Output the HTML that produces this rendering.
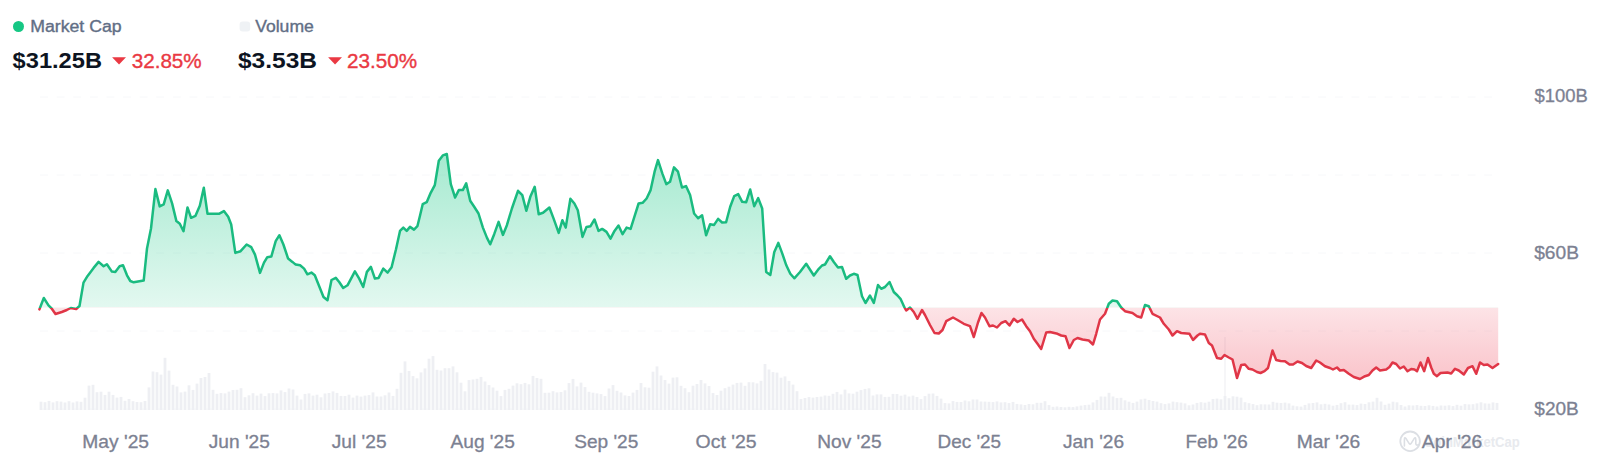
<!DOCTYPE html>
<html lang="en"><head><meta charset="utf-8"><title>Market Cap chart</title>
<style>
html,body{margin:0;padding:0;background:#fff;}
body{width:1600px;height:464px;overflow:hidden;font-family:"Liberation Sans",sans-serif;}
svg{display:block;font-family:"Liberation Sans",sans-serif;}
</style></head><body>
<svg width="1600" height="464" viewBox="0 0 1600 464">
<defs>
<linearGradient id="gg" gradientUnits="userSpaceOnUse" x1="0" y1="150" x2="0" y2="307.5">
<stop offset="0" stop-color="#16c784" stop-opacity="0.39"/><stop offset="1" stop-color="#16c784" stop-opacity="0.12"/></linearGradient>
<linearGradient id="rg" gradientUnits="userSpaceOnUse" x1="0" y1="307.5" x2="0" y2="385">
<stop offset="0" stop-color="#ee3a50" stop-opacity="0.14"/><stop offset="1" stop-color="#ee3a50" stop-opacity="0.31"/></linearGradient>
<clipPath id="up"><rect x="0" y="0" width="1600" height="307.5"/></clipPath>
<clipPath id="lup"><rect x="0" y="0" width="1600" height="308.1"/></clipPath>
<clipPath id="ldn"><rect x="0" y="308.1" width="1600" height="200"/></clipPath>
<clipPath id="dn"><rect x="0" y="307.5" width="1600" height="200"/></clipPath>
</defs>
<rect width="1600" height="464" fill="#fff"/>
<g stroke="#f7f8fa" stroke-width="1" stroke-dasharray="8 8.6"><line x1="40" x2="1498" y1="97" y2="97"/><line x1="40" x2="1498" y1="175" y2="175"/><line x1="40" x2="1498" y1="253" y2="253"/><line x1="40" x2="1498" y1="331" y2="331"/><line x1="40" x2="1498" y1="409" y2="409"/></g>
<g fill="#eeeff3"><rect x="39.6" y="401.7" width="2.8" height="8.3"/><rect x="43.6" y="402.2" width="2.8" height="7.8"/><rect x="47.6" y="400.9" width="2.8" height="9.1"/><rect x="51.6" y="402.4" width="2.8" height="7.6"/><rect x="55.6" y="401.2" width="2.8" height="8.8"/><rect x="59.6" y="401.6" width="2.8" height="8.4"/><rect x="63.6" y="402.5" width="2.8" height="7.5"/><rect x="67.6" y="401.2" width="2.8" height="8.8"/><rect x="71.6" y="402.5" width="2.8" height="7.5"/><rect x="75.6" y="401.4" width="2.8" height="8.6"/><rect x="79.6" y="401.8" width="2.8" height="8.2"/><rect x="83.6" y="397.7" width="2.8" height="12.3"/><rect x="87.6" y="385.6" width="2.8" height="24.4"/><rect x="91.6" y="384.8" width="2.8" height="25.2"/><rect x="95.6" y="392.2" width="2.8" height="17.8"/><rect x="99.6" y="391.7" width="2.8" height="18.3"/><rect x="103.6" y="394.9" width="2.8" height="15.1"/><rect x="107.6" y="391.7" width="2.8" height="18.3"/><rect x="111.6" y="394.9" width="2.8" height="15.1"/><rect x="115.6" y="397.6" width="2.8" height="12.4"/><rect x="119.6" y="396.9" width="2.8" height="13.1"/><rect x="123.6" y="400.8" width="2.8" height="9.2"/><rect x="127.6" y="399.0" width="2.8" height="11.0"/><rect x="131.6" y="401.2" width="2.8" height="8.8"/><rect x="135.6" y="402.0" width="2.8" height="8.0"/><rect x="139.6" y="402.2" width="2.8" height="7.8"/><rect x="143.6" y="401.0" width="2.8" height="9.0"/><rect x="147.6" y="387.4" width="2.8" height="22.6"/><rect x="151.6" y="371.5" width="2.8" height="38.5"/><rect x="155.6" y="372.2" width="2.8" height="37.8"/><rect x="159.6" y="374.6" width="2.8" height="35.4"/><rect x="163.6" y="357.8" width="2.8" height="52.2"/><rect x="167.6" y="370.6" width="2.8" height="39.4"/><rect x="171.6" y="384.8" width="2.8" height="25.2"/><rect x="175.6" y="386.5" width="2.8" height="23.5"/><rect x="179.6" y="392.4" width="2.8" height="17.6"/><rect x="183.6" y="391.6" width="2.8" height="18.4"/><rect x="187.6" y="385.3" width="2.8" height="24.7"/><rect x="191.6" y="389.9" width="2.8" height="20.1"/><rect x="195.6" y="383.6" width="2.8" height="26.4"/><rect x="199.6" y="378.0" width="2.8" height="32.0"/><rect x="203.6" y="377.0" width="2.8" height="33.0"/><rect x="207.6" y="373.0" width="2.8" height="37.0"/><rect x="211.6" y="389.8" width="2.8" height="20.2"/><rect x="215.6" y="393.8" width="2.8" height="16.2"/><rect x="219.6" y="393.1" width="2.8" height="16.9"/><rect x="223.6" y="393.4" width="2.8" height="16.6"/><rect x="227.6" y="391.6" width="2.8" height="18.4"/><rect x="231.6" y="390.0" width="2.8" height="20.0"/><rect x="235.6" y="389.8" width="2.8" height="20.2"/><rect x="239.6" y="388.2" width="2.8" height="21.8"/><rect x="243.6" y="397.2" width="2.8" height="12.8"/><rect x="247.6" y="395.3" width="2.8" height="14.7"/><rect x="251.6" y="393.2" width="2.8" height="16.8"/><rect x="255.6" y="395.6" width="2.8" height="14.4"/><rect x="259.6" y="393.6" width="2.8" height="16.4"/><rect x="263.6" y="396.1" width="2.8" height="13.9"/><rect x="267.6" y="393.3" width="2.8" height="16.7"/><rect x="271.6" y="393.1" width="2.8" height="16.9"/><rect x="275.6" y="393.4" width="2.8" height="16.6"/><rect x="279.6" y="390.4" width="2.8" height="19.6"/><rect x="283.6" y="392.1" width="2.8" height="17.9"/><rect x="287.6" y="388.5" width="2.8" height="21.5"/><rect x="291.6" y="389.5" width="2.8" height="20.5"/><rect x="295.6" y="395.6" width="2.8" height="14.4"/><rect x="299.6" y="399.5" width="2.8" height="10.5"/><rect x="303.6" y="393.9" width="2.8" height="16.1"/><rect x="307.6" y="393.4" width="2.8" height="16.6"/><rect x="311.6" y="395.6" width="2.8" height="14.4"/><rect x="315.6" y="394.7" width="2.8" height="15.3"/><rect x="319.6" y="397.3" width="2.8" height="12.7"/><rect x="323.6" y="393.5" width="2.8" height="16.5"/><rect x="327.6" y="393.0" width="2.8" height="17.0"/><rect x="331.6" y="391.4" width="2.8" height="18.6"/><rect x="335.6" y="392.9" width="2.8" height="17.1"/><rect x="339.6" y="395.9" width="2.8" height="14.1"/><rect x="343.6" y="396.0" width="2.8" height="14.0"/><rect x="347.6" y="394.7" width="2.8" height="15.3"/><rect x="351.6" y="397.6" width="2.8" height="12.4"/><rect x="355.6" y="395.6" width="2.8" height="14.4"/><rect x="359.6" y="396.6" width="2.8" height="13.4"/><rect x="363.6" y="395.6" width="2.8" height="14.4"/><rect x="367.6" y="395.1" width="2.8" height="14.9"/><rect x="371.6" y="392.4" width="2.8" height="17.6"/><rect x="375.6" y="396.5" width="2.8" height="13.5"/><rect x="379.6" y="396.5" width="2.8" height="13.5"/><rect x="383.6" y="395.3" width="2.8" height="14.7"/><rect x="387.6" y="392.5" width="2.8" height="17.5"/><rect x="391.6" y="395.9" width="2.8" height="14.1"/><rect x="395.6" y="388.8" width="2.8" height="21.2"/><rect x="399.6" y="372.8" width="2.8" height="37.2"/><rect x="403.6" y="361.4" width="2.8" height="48.6"/><rect x="407.6" y="371.0" width="2.8" height="39.0"/><rect x="411.6" y="376.1" width="2.8" height="33.9"/><rect x="415.6" y="378.3" width="2.8" height="31.7"/><rect x="419.6" y="372.4" width="2.8" height="37.6"/><rect x="423.6" y="368.4" width="2.8" height="41.6"/><rect x="427.6" y="358.7" width="2.8" height="51.3"/><rect x="431.6" y="356.1" width="2.8" height="53.9"/><rect x="435.6" y="369.8" width="2.8" height="40.2"/><rect x="439.6" y="370.5" width="2.8" height="39.5"/><rect x="443.6" y="368.2" width="2.8" height="41.8"/><rect x="447.6" y="368.2" width="2.8" height="41.8"/><rect x="451.6" y="366.4" width="2.8" height="43.6"/><rect x="455.6" y="372.3" width="2.8" height="37.7"/><rect x="459.6" y="382.7" width="2.8" height="27.3"/><rect x="463.6" y="391.3" width="2.8" height="18.7"/><rect x="467.6" y="380.1" width="2.8" height="29.9"/><rect x="471.6" y="379.5" width="2.8" height="30.5"/><rect x="475.6" y="378.8" width="2.8" height="31.2"/><rect x="479.6" y="376.9" width="2.8" height="33.1"/><rect x="483.6" y="381.5" width="2.8" height="28.5"/><rect x="487.6" y="385.1" width="2.8" height="24.9"/><rect x="491.6" y="387.5" width="2.8" height="22.5"/><rect x="495.6" y="390.7" width="2.8" height="19.3"/><rect x="499.6" y="396.1" width="2.8" height="13.9"/><rect x="503.6" y="389.9" width="2.8" height="20.1"/><rect x="507.6" y="388.8" width="2.8" height="21.2"/><rect x="511.6" y="385.6" width="2.8" height="24.4"/><rect x="515.6" y="383.3" width="2.8" height="26.7"/><rect x="519.6" y="384.2" width="2.8" height="25.8"/><rect x="523.6" y="382.9" width="2.8" height="27.1"/><rect x="527.6" y="384.3" width="2.8" height="25.7"/><rect x="531.6" y="375.9" width="2.8" height="34.1"/><rect x="535.6" y="378.0" width="2.8" height="32.0"/><rect x="539.6" y="378.8" width="2.8" height="31.2"/><rect x="543.6" y="392.8" width="2.8" height="17.2"/><rect x="547.6" y="392.7" width="2.8" height="17.3"/><rect x="551.6" y="391.2" width="2.8" height="18.8"/><rect x="555.6" y="392.4" width="2.8" height="17.6"/><rect x="559.6" y="392.0" width="2.8" height="18.0"/><rect x="563.6" y="390.3" width="2.8" height="19.7"/><rect x="567.6" y="383.1" width="2.8" height="26.9"/><rect x="571.6" y="378.9" width="2.8" height="31.1"/><rect x="575.6" y="386.4" width="2.8" height="23.6"/><rect x="579.6" y="382.6" width="2.8" height="27.4"/><rect x="583.6" y="387.1" width="2.8" height="22.9"/><rect x="587.6" y="391.8" width="2.8" height="18.2"/><rect x="591.6" y="392.7" width="2.8" height="17.3"/><rect x="595.6" y="393.4" width="2.8" height="16.6"/><rect x="599.6" y="394.1" width="2.8" height="15.9"/><rect x="603.6" y="396.1" width="2.8" height="13.9"/><rect x="607.6" y="388.5" width="2.8" height="21.5"/><rect x="611.6" y="385.1" width="2.8" height="24.9"/><rect x="615.6" y="390.8" width="2.8" height="19.2"/><rect x="619.6" y="392.5" width="2.8" height="17.5"/><rect x="623.6" y="395.4" width="2.8" height="14.6"/><rect x="627.6" y="396.0" width="2.8" height="14.0"/><rect x="631.6" y="392.6" width="2.8" height="17.4"/><rect x="635.6" y="389.9" width="2.8" height="20.1"/><rect x="639.6" y="383.0" width="2.8" height="27.0"/><rect x="643.6" y="387.3" width="2.8" height="22.7"/><rect x="647.6" y="387.7" width="2.8" height="22.3"/><rect x="651.6" y="371.7" width="2.8" height="38.3"/><rect x="655.6" y="366.4" width="2.8" height="43.6"/><rect x="659.6" y="375.5" width="2.8" height="34.5"/><rect x="663.6" y="380.0" width="2.8" height="30.0"/><rect x="667.6" y="383.6" width="2.8" height="26.4"/><rect x="671.6" y="377.6" width="2.8" height="32.4"/><rect x="675.6" y="377.3" width="2.8" height="32.7"/><rect x="679.6" y="385.8" width="2.8" height="24.2"/><rect x="683.6" y="388.2" width="2.8" height="21.8"/><rect x="687.6" y="392.2" width="2.8" height="17.8"/><rect x="691.6" y="385.7" width="2.8" height="24.3"/><rect x="695.6" y="384.0" width="2.8" height="26.0"/><rect x="699.6" y="380.0" width="2.8" height="30.0"/><rect x="703.6" y="383.4" width="2.8" height="26.6"/><rect x="707.6" y="386.0" width="2.8" height="24.0"/><rect x="711.6" y="393.1" width="2.8" height="16.9"/><rect x="715.6" y="395.0" width="2.8" height="15.0"/><rect x="719.6" y="390.7" width="2.8" height="19.3"/><rect x="723.6" y="388.2" width="2.8" height="21.8"/><rect x="727.6" y="386.7" width="2.8" height="23.3"/><rect x="731.6" y="384.6" width="2.8" height="25.4"/><rect x="735.6" y="382.9" width="2.8" height="27.1"/><rect x="739.6" y="382.6" width="2.8" height="27.4"/><rect x="743.6" y="385.8" width="2.8" height="24.2"/><rect x="747.6" y="382.2" width="2.8" height="27.8"/><rect x="751.6" y="382.3" width="2.8" height="27.7"/><rect x="755.6" y="383.4" width="2.8" height="26.6"/><rect x="759.6" y="380.8" width="2.8" height="29.2"/><rect x="763.6" y="364.0" width="2.8" height="46.0"/><rect x="767.6" y="369.5" width="2.8" height="40.5"/><rect x="771.6" y="372.1" width="2.8" height="37.9"/><rect x="775.6" y="372.6" width="2.8" height="37.4"/><rect x="779.6" y="377.7" width="2.8" height="32.3"/><rect x="783.6" y="376.4" width="2.8" height="33.6"/><rect x="787.6" y="380.9" width="2.8" height="29.1"/><rect x="791.6" y="384.6" width="2.8" height="25.4"/><rect x="795.6" y="391.2" width="2.8" height="18.8"/><rect x="799.6" y="399.1" width="2.8" height="10.9"/><rect x="803.6" y="398.0" width="2.8" height="12.0"/><rect x="807.6" y="397.1" width="2.8" height="12.9"/><rect x="811.6" y="397.6" width="2.8" height="12.4"/><rect x="815.6" y="397.0" width="2.8" height="13.0"/><rect x="819.6" y="396.6" width="2.8" height="13.4"/><rect x="823.6" y="395.5" width="2.8" height="14.5"/><rect x="827.6" y="395.8" width="2.8" height="14.2"/><rect x="831.6" y="393.8" width="2.8" height="16.2"/><rect x="835.6" y="391.9" width="2.8" height="18.1"/><rect x="839.6" y="394.4" width="2.8" height="15.6"/><rect x="843.6" y="389.6" width="2.8" height="20.4"/><rect x="847.6" y="393.4" width="2.8" height="16.6"/><rect x="851.6" y="393.7" width="2.8" height="16.3"/><rect x="855.6" y="391.7" width="2.8" height="18.3"/><rect x="859.6" y="390.1" width="2.8" height="19.9"/><rect x="863.6" y="388.9" width="2.8" height="21.1"/><rect x="867.6" y="388.3" width="2.8" height="21.7"/><rect x="871.6" y="395.5" width="2.8" height="14.5"/><rect x="875.6" y="394.4" width="2.8" height="15.6"/><rect x="879.6" y="394.4" width="2.8" height="15.6"/><rect x="883.6" y="396.9" width="2.8" height="13.1"/><rect x="887.6" y="396.8" width="2.8" height="13.2"/><rect x="891.6" y="393.9" width="2.8" height="16.1"/><rect x="895.6" y="394.0" width="2.8" height="16.0"/><rect x="899.6" y="395.7" width="2.8" height="14.3"/><rect x="903.6" y="394.6" width="2.8" height="15.4"/><rect x="907.6" y="396.5" width="2.8" height="13.5"/><rect x="911.6" y="395.6" width="2.8" height="14.4"/><rect x="915.6" y="397.0" width="2.8" height="13.0"/><rect x="919.6" y="399.1" width="2.8" height="10.9"/><rect x="923.6" y="396.1" width="2.8" height="13.9"/><rect x="927.6" y="393.7" width="2.8" height="16.3"/><rect x="931.6" y="393.5" width="2.8" height="16.5"/><rect x="935.6" y="395.9" width="2.8" height="14.1"/><rect x="939.6" y="398.6" width="2.8" height="11.4"/><rect x="943.6" y="403.1" width="2.8" height="6.9"/><rect x="947.6" y="403.4" width="2.8" height="6.6"/><rect x="951.6" y="401.1" width="2.8" height="8.9"/><rect x="955.6" y="401.9" width="2.8" height="8.1"/><rect x="959.6" y="402.0" width="2.8" height="8.0"/><rect x="963.6" y="400.5" width="2.8" height="9.5"/><rect x="967.6" y="401.3" width="2.8" height="8.7"/><rect x="971.6" y="399.5" width="2.8" height="10.5"/><rect x="975.6" y="399.5" width="2.8" height="10.5"/><rect x="979.6" y="401.5" width="2.8" height="8.5"/><rect x="983.6" y="401.6" width="2.8" height="8.4"/><rect x="987.6" y="401.8" width="2.8" height="8.2"/><rect x="991.6" y="402.1" width="2.8" height="7.9"/><rect x="995.6" y="401.4" width="2.8" height="8.6"/><rect x="999.6" y="402.4" width="2.8" height="7.6"/><rect x="1003.6" y="402.2" width="2.8" height="7.8"/><rect x="1007.6" y="403.1" width="2.8" height="6.9"/><rect x="1011.6" y="401.9" width="2.8" height="8.1"/><rect x="1015.6" y="403.9" width="2.8" height="6.1"/><rect x="1019.6" y="404.4" width="2.8" height="5.6"/><rect x="1023.6" y="405.0" width="2.8" height="5.0"/><rect x="1027.6" y="404.0" width="2.8" height="6.0"/><rect x="1031.6" y="404.3" width="2.8" height="5.7"/><rect x="1035.6" y="402.8" width="2.8" height="7.2"/><rect x="1039.6" y="402.8" width="2.8" height="7.2"/><rect x="1043.6" y="401.2" width="2.8" height="8.8"/><rect x="1047.6" y="405.1" width="2.8" height="4.9"/><rect x="1051.6" y="406.8" width="2.8" height="3.2"/><rect x="1055.6" y="406.5" width="2.8" height="3.5"/><rect x="1059.6" y="407.0" width="2.8" height="3.0"/><rect x="1063.6" y="407.3" width="2.8" height="2.7"/><rect x="1067.6" y="406.8" width="2.8" height="3.2"/><rect x="1071.6" y="407.1" width="2.8" height="2.9"/><rect x="1075.6" y="406.4" width="2.8" height="3.6"/><rect x="1079.6" y="405.6" width="2.8" height="4.4"/><rect x="1083.6" y="405.1" width="2.8" height="4.9"/><rect x="1087.6" y="404.7" width="2.8" height="5.3"/><rect x="1091.6" y="402.4" width="2.8" height="7.6"/><rect x="1095.6" y="399.9" width="2.8" height="10.1"/><rect x="1099.6" y="396.5" width="2.8" height="13.5"/><rect x="1103.6" y="396.6" width="2.8" height="13.4"/><rect x="1107.6" y="392.8" width="2.8" height="17.2"/><rect x="1111.6" y="396.5" width="2.8" height="13.5"/><rect x="1115.6" y="398.1" width="2.8" height="11.9"/><rect x="1119.6" y="397.8" width="2.8" height="12.2"/><rect x="1123.6" y="400.3" width="2.8" height="9.7"/><rect x="1127.6" y="401.7" width="2.8" height="8.3"/><rect x="1131.6" y="402.9" width="2.8" height="7.1"/><rect x="1135.6" y="401.6" width="2.8" height="8.4"/><rect x="1139.6" y="399.4" width="2.8" height="10.6"/><rect x="1143.6" y="398.7" width="2.8" height="11.3"/><rect x="1147.6" y="400.0" width="2.8" height="10.0"/><rect x="1151.6" y="401.0" width="2.8" height="9.0"/><rect x="1155.6" y="401.6" width="2.8" height="8.4"/><rect x="1159.6" y="403.2" width="2.8" height="6.8"/><rect x="1163.6" y="404.1" width="2.8" height="5.9"/><rect x="1167.6" y="403.4" width="2.8" height="6.6"/><rect x="1171.6" y="401.6" width="2.8" height="8.4"/><rect x="1175.6" y="402.2" width="2.8" height="7.8"/><rect x="1179.6" y="402.6" width="2.8" height="7.4"/><rect x="1183.6" y="403.4" width="2.8" height="6.6"/><rect x="1187.6" y="405.3" width="2.8" height="4.7"/><rect x="1191.6" y="404.5" width="2.8" height="5.5"/><rect x="1195.6" y="402.9" width="2.8" height="7.1"/><rect x="1199.6" y="402.2" width="2.8" height="7.8"/><rect x="1203.6" y="402.7" width="2.8" height="7.3"/><rect x="1207.6" y="401.7" width="2.8" height="8.3"/><rect x="1211.6" y="399.0" width="2.8" height="11.0"/><rect x="1215.6" y="398.6" width="2.8" height="11.4"/><rect x="1219.6" y="399.3" width="2.8" height="10.7"/><rect x="1224.3" y="337.0" width="1.4" height="59.0" fill="#f2f3f6"/><rect x="1223.6" y="396.0" width="2.8" height="14.0"/><rect x="1227.6" y="398.2" width="2.8" height="11.8"/><rect x="1231.6" y="396.3" width="2.8" height="13.7"/><rect x="1235.6" y="396.7" width="2.8" height="13.3"/><rect x="1239.6" y="397.6" width="2.8" height="12.4"/><rect x="1243.6" y="402.2" width="2.8" height="7.8"/><rect x="1247.6" y="403.2" width="2.8" height="6.8"/><rect x="1251.6" y="404.1" width="2.8" height="5.9"/><rect x="1255.6" y="405.2" width="2.8" height="4.8"/><rect x="1259.6" y="404.3" width="2.8" height="5.7"/><rect x="1263.6" y="404.4" width="2.8" height="5.6"/><rect x="1267.6" y="404.5" width="2.8" height="5.5"/><rect x="1271.6" y="401.8" width="2.8" height="8.2"/><rect x="1275.6" y="402.7" width="2.8" height="7.3"/><rect x="1279.6" y="403.0" width="2.8" height="7.0"/><rect x="1283.6" y="402.6" width="2.8" height="7.4"/><rect x="1287.6" y="403.4" width="2.8" height="6.6"/><rect x="1291.6" y="405.6" width="2.8" height="4.4"/><rect x="1295.6" y="406.3" width="2.8" height="3.7"/><rect x="1299.6" y="406.6" width="2.8" height="3.4"/><rect x="1303.6" y="404.9" width="2.8" height="5.1"/><rect x="1307.6" y="403.4" width="2.8" height="6.6"/><rect x="1311.6" y="403.0" width="2.8" height="7.0"/><rect x="1315.6" y="402.4" width="2.8" height="7.6"/><rect x="1319.6" y="404.3" width="2.8" height="5.7"/><rect x="1323.6" y="403.8" width="2.8" height="6.2"/><rect x="1327.6" y="404.5" width="2.8" height="5.5"/><rect x="1331.6" y="405.7" width="2.8" height="4.3"/><rect x="1335.6" y="404.9" width="2.8" height="5.1"/><rect x="1339.6" y="403.2" width="2.8" height="6.8"/><rect x="1343.6" y="402.2" width="2.8" height="7.8"/><rect x="1347.6" y="404.6" width="2.8" height="5.4"/><rect x="1351.6" y="404.6" width="2.8" height="5.4"/><rect x="1355.6" y="405.1" width="2.8" height="4.9"/><rect x="1359.6" y="403.6" width="2.8" height="6.4"/><rect x="1363.6" y="404.0" width="2.8" height="6.0"/><rect x="1367.6" y="402.3" width="2.8" height="7.7"/><rect x="1371.6" y="401.6" width="2.8" height="8.4"/><rect x="1375.6" y="397.8" width="2.8" height="12.2"/><rect x="1379.6" y="401.5" width="2.8" height="8.5"/><rect x="1383.6" y="404.8" width="2.8" height="5.2"/><rect x="1387.6" y="403.6" width="2.8" height="6.4"/><rect x="1391.6" y="401.7" width="2.8" height="8.3"/><rect x="1395.6" y="402.3" width="2.8" height="7.7"/><rect x="1399.6" y="405.0" width="2.8" height="5.0"/><rect x="1403.6" y="406.5" width="2.8" height="3.5"/><rect x="1407.6" y="405.3" width="2.8" height="4.7"/><rect x="1411.6" y="405.5" width="2.8" height="4.5"/><rect x="1415.6" y="405.1" width="2.8" height="4.9"/><rect x="1419.6" y="405.8" width="2.8" height="4.2"/><rect x="1423.6" y="406.0" width="2.8" height="4.0"/><rect x="1427.6" y="405.3" width="2.8" height="4.7"/><rect x="1431.6" y="405.9" width="2.8" height="4.1"/><rect x="1435.6" y="406.5" width="2.8" height="3.5"/><rect x="1439.6" y="405.5" width="2.8" height="4.5"/><rect x="1443.6" y="405.7" width="2.8" height="4.3"/><rect x="1447.6" y="405.3" width="2.8" height="4.7"/><rect x="1451.6" y="406.1" width="2.8" height="3.9"/><rect x="1455.6" y="404.8" width="2.8" height="5.2"/><rect x="1459.6" y="405.7" width="2.8" height="4.3"/><rect x="1463.6" y="404.1" width="2.8" height="5.9"/><rect x="1467.6" y="404.4" width="2.8" height="5.6"/><rect x="1471.6" y="404.2" width="2.8" height="5.8"/><rect x="1475.6" y="403.4" width="2.8" height="6.6"/><rect x="1479.6" y="402.3" width="2.8" height="7.7"/><rect x="1483.6" y="403.4" width="2.8" height="6.6"/><rect x="1487.6" y="403.6" width="2.8" height="6.4"/><rect x="1491.6" y="402.4" width="2.8" height="7.6"/><rect x="1495.6" y="402.9" width="2.8" height="7.1"/></g>
<path d="M39.4,309.4 L43.8,298.0 L48.5,305.4 L51.8,308.7 L55.5,314.0 L61.8,312.0 L66.8,310.0 L70.8,308.0 L76.2,309.0 L79.5,306.0 L83.5,282.6 L87.6,275.9 L93.6,267.9 L98.6,261.9 L103.6,266.3 L106.9,264.2 L111.9,271.6 L115.3,271.9 L119.6,266.3 L123.0,265.3 L127.0,275.3 L130.3,281.0 L133.7,282.3 L143.7,280.6 L147.0,248.5 L151.0,228.5 L155.4,189.1 L159.7,206.4 L163.7,204.4 L167.8,190.4 L172.1,203.4 L176.4,221.1 L179.8,223.8 L183.5,231.2 L187.5,207.4 L191.1,217.8 L195.5,215.8 L199.8,205.8 L203.8,187.7 L207.5,213.8 L218.9,213.8 L223.9,211.1 L228.2,216.8 L231.2,224.5 L235.3,252.9 L240.6,251.2 L246.6,244.5 L251.3,247.2 L255.0,254.6 L260.0,272.9 L264.0,262.6 L267.3,257.2 L271.3,256.6 L275.7,241.2 L279.4,235.2 L283.4,244.5 L288.1,258.6 L292.4,261.9 L295.7,264.6 L300.1,265.3 L304.1,268.6 L307.4,274.3 L311.4,272.6 L314.8,275.3 L319.1,286.0 L323.5,297.0 L327.5,300.3 L331.5,280.0 L335.8,277.9 L339.2,282.0 L343.2,288.0 L347.5,285.3 L354.9,271.3 L359.2,278.6 L363.2,287.0 L366.9,271.9 L370.9,266.9 L374.9,278.6 L378.6,277.9 L383.3,268.6 L387.6,272.6 L391.6,267.3 L396.0,249.2 L400.0,230.9 L403.3,227.6 L406.7,230.9 L410.0,226.9 L414.0,229.6 L417.4,226.2 L420.1,215.2 L422.7,204.2 L426.7,202.2 L430.7,192.8 L434.8,185.1 L438.8,160.7 L442.8,155.4 L446.8,154.0 L450.8,184.1 L455.1,197.5 L458.8,190.1 L462.8,190.1 L466.2,183.4 L470.2,200.8 L474.2,206.8 L478.5,213.5 L482.9,227.6 L486.9,237.6 L490.2,244.3 L494.2,234.2 L498.6,221.9 L502.9,234.9 L506.9,225.2 L511.9,208.5 L518.0,190.8 L522.3,195.1 L526.3,210.8 L530.3,196.8 L534.7,186.8 L538.7,214.2 L543.0,212.8 L549.4,207.5 L553.7,218.9 L558.7,232.9 L562.4,220.2 L565.7,227.6 L570.4,198.8 L574.4,203.5 L577.8,210.2 L582.5,236.9 L586.5,226.9 L590.5,226.2 L594.5,219.5 L598.5,230.9 L602.2,228.9 L606.5,231.9 L610.5,238.6 L614.5,230.9 L618.5,225.5 L622.6,234.2 L626.6,227.6 L630.6,228.9 L634.6,216.2 L638.6,203.5 L642.6,202.8 L646.6,198.5 L650.6,190.1 L654.6,171.7 L658.0,160.1 L662.3,173.4 L666.3,184.1 L670.0,181.8 L674.0,167.4 L678.0,171.7 L682.0,187.5 L686.0,186.1 L690.1,195.1 L694.1,213.5 L698.1,218.2 L702.1,215.2 L706.1,235.2 L710.1,224.2 L714.1,224.9 L718.1,218.9 L722.1,222.5 L726.1,222.2 L730.2,206.8 L734.2,196.1 L738.2,194.1 L742.2,201.8 L746.2,202.2 L750.2,189.5 L754.2,206.2 L758.2,198.1 L762.2,208.5 L766.2,272.0 L770.3,275.0 L774.3,251.9 L778.3,242.9 L782.3,253.6 L786.3,265.3 L790.3,273.7 L794.3,278.3 L800.0,272.0 L806.2,263.8 L813.8,275.5 L818.8,268.8 L822.0,265.5 L825.0,264.5 L830.0,256.2 L833.8,262.0 L838.0,267.5 L842.0,267.0 L846.2,278.8 L850.0,275.5 L853.8,273.8 L857.5,275.0 L862.0,296.2 L865.5,303.0 L870.0,295.5 L873.8,303.0 L878.0,285.0 L881.2,288.8 L885.0,287.0 L889.5,282.0 L893.8,292.0 L897.5,295.5 L900.5,298.8 L904.5,307.5 L906.2,310.5 L910.0,307.5 L913.8,312.0 L917.5,318.8 L922.0,310.0 L925.0,315.0 L930.0,325.0 L934.5,333.0 L938.8,333.5 L942.5,330.0 L946.2,321.2 L953.0,317.5 L957.5,320.0 L963.8,323.8 L970.0,326.2 L973.8,337.0 L978.0,322.5 L981.5,313.0 L985.0,317.5 L989.5,326.2 L993.0,325.5 L997.0,327.5 L1001.2,323.0 L1005.5,321.2 L1009.5,325.5 L1013.8,318.8 L1017.5,322.0 L1022.0,319.5 L1026.2,326.2 L1030.0,331.2 L1033.8,338.8 L1037.5,343.8 L1041.2,349.0 L1046.2,332.5 L1050.0,332.0 L1057.5,333.8 L1061.2,335.5 L1065.5,336.2 L1069.5,348.0 L1073.8,340.0 L1077.5,338.0 L1082.5,339.5 L1088.8,340.5 L1093.0,344.5 L1096.2,333.8 L1100.0,319.5 L1105.0,313.8 L1108.8,303.8 L1112.5,300.5 L1117.0,301.2 L1121.2,307.5 L1125.0,311.2 L1132.5,313.0 L1137.0,316.2 L1141.2,317.5 L1145.0,305.0 L1148.8,306.2 L1152.5,313.8 L1160.0,317.5 L1163.8,323.8 L1168.8,329.5 L1172.5,335.5 L1177.0,331.2 L1181.2,333.0 L1189.5,333.8 L1193.0,340.0 L1197.5,335.5 L1200.0,333.8 L1205.0,334.5 L1208.8,343.0 L1212.0,345.5 L1217.0,358.0 L1221.2,358.8 L1224.5,355.0 L1228.8,357.5 L1232.5,359.5 L1237.0,378.0 L1241.2,365.0 L1245.0,364.5 L1248.8,368.8 L1252.5,369.5 L1257.0,372.0 L1260.5,373.0 L1264.5,371.2 L1268.0,368.0 L1272.5,350.5 L1276.2,360.0 L1280.5,361.0 L1285.0,361.2 L1289.5,364.5 L1293.0,364.5 L1297.5,361.5 L1302.0,363.0 L1306.2,366.0 L1311.2,368.0 L1316.2,360.5 L1320.0,362.5 L1325.0,366.2 L1330.0,368.0 L1333.0,369.5 L1337.0,367.5 L1340.0,370.5 L1343.8,370.0 L1348.8,373.8 L1353.8,377.0 L1360.0,379.0 L1365.0,376.2 L1368.8,375.0 L1372.5,370.5 L1376.2,367.5 L1380.0,370.5 L1386.2,369.5 L1389.5,367.0 L1392.5,362.5 L1396.2,364.0 L1400.0,368.5 L1403.8,366.5 L1407.5,371.2 L1411.2,369.0 L1414.5,369.5 L1417.0,371.2 L1420.5,362.5 L1424.2,371.2 L1428.0,358.0 L1431.2,367.5 L1433.8,373.8 L1437.0,376.2 L1440.5,373.0 L1447.5,372.5 L1451.2,373.5 L1455.0,368.8 L1458.8,370.5 L1463.8,374.5 L1468.0,368.0 L1472.5,366.2 L1476.2,373.8 L1480.0,362.5 L1483.8,365.0 L1487.5,364.5 L1492.5,368.0 L1498.2,364.0 L1498.2,307.5 L39.4,307.5 Z" fill="url(#gg)" clip-path="url(#up)"/>
<path d="M39.4,309.4 L43.8,298.0 L48.5,305.4 L51.8,308.7 L55.5,314.0 L61.8,312.0 L66.8,310.0 L70.8,308.0 L76.2,309.0 L79.5,306.0 L83.5,282.6 L87.6,275.9 L93.6,267.9 L98.6,261.9 L103.6,266.3 L106.9,264.2 L111.9,271.6 L115.3,271.9 L119.6,266.3 L123.0,265.3 L127.0,275.3 L130.3,281.0 L133.7,282.3 L143.7,280.6 L147.0,248.5 L151.0,228.5 L155.4,189.1 L159.7,206.4 L163.7,204.4 L167.8,190.4 L172.1,203.4 L176.4,221.1 L179.8,223.8 L183.5,231.2 L187.5,207.4 L191.1,217.8 L195.5,215.8 L199.8,205.8 L203.8,187.7 L207.5,213.8 L218.9,213.8 L223.9,211.1 L228.2,216.8 L231.2,224.5 L235.3,252.9 L240.6,251.2 L246.6,244.5 L251.3,247.2 L255.0,254.6 L260.0,272.9 L264.0,262.6 L267.3,257.2 L271.3,256.6 L275.7,241.2 L279.4,235.2 L283.4,244.5 L288.1,258.6 L292.4,261.9 L295.7,264.6 L300.1,265.3 L304.1,268.6 L307.4,274.3 L311.4,272.6 L314.8,275.3 L319.1,286.0 L323.5,297.0 L327.5,300.3 L331.5,280.0 L335.8,277.9 L339.2,282.0 L343.2,288.0 L347.5,285.3 L354.9,271.3 L359.2,278.6 L363.2,287.0 L366.9,271.9 L370.9,266.9 L374.9,278.6 L378.6,277.9 L383.3,268.6 L387.6,272.6 L391.6,267.3 L396.0,249.2 L400.0,230.9 L403.3,227.6 L406.7,230.9 L410.0,226.9 L414.0,229.6 L417.4,226.2 L420.1,215.2 L422.7,204.2 L426.7,202.2 L430.7,192.8 L434.8,185.1 L438.8,160.7 L442.8,155.4 L446.8,154.0 L450.8,184.1 L455.1,197.5 L458.8,190.1 L462.8,190.1 L466.2,183.4 L470.2,200.8 L474.2,206.8 L478.5,213.5 L482.9,227.6 L486.9,237.6 L490.2,244.3 L494.2,234.2 L498.6,221.9 L502.9,234.9 L506.9,225.2 L511.9,208.5 L518.0,190.8 L522.3,195.1 L526.3,210.8 L530.3,196.8 L534.7,186.8 L538.7,214.2 L543.0,212.8 L549.4,207.5 L553.7,218.9 L558.7,232.9 L562.4,220.2 L565.7,227.6 L570.4,198.8 L574.4,203.5 L577.8,210.2 L582.5,236.9 L586.5,226.9 L590.5,226.2 L594.5,219.5 L598.5,230.9 L602.2,228.9 L606.5,231.9 L610.5,238.6 L614.5,230.9 L618.5,225.5 L622.6,234.2 L626.6,227.6 L630.6,228.9 L634.6,216.2 L638.6,203.5 L642.6,202.8 L646.6,198.5 L650.6,190.1 L654.6,171.7 L658.0,160.1 L662.3,173.4 L666.3,184.1 L670.0,181.8 L674.0,167.4 L678.0,171.7 L682.0,187.5 L686.0,186.1 L690.1,195.1 L694.1,213.5 L698.1,218.2 L702.1,215.2 L706.1,235.2 L710.1,224.2 L714.1,224.9 L718.1,218.9 L722.1,222.5 L726.1,222.2 L730.2,206.8 L734.2,196.1 L738.2,194.1 L742.2,201.8 L746.2,202.2 L750.2,189.5 L754.2,206.2 L758.2,198.1 L762.2,208.5 L766.2,272.0 L770.3,275.0 L774.3,251.9 L778.3,242.9 L782.3,253.6 L786.3,265.3 L790.3,273.7 L794.3,278.3 L800.0,272.0 L806.2,263.8 L813.8,275.5 L818.8,268.8 L822.0,265.5 L825.0,264.5 L830.0,256.2 L833.8,262.0 L838.0,267.5 L842.0,267.0 L846.2,278.8 L850.0,275.5 L853.8,273.8 L857.5,275.0 L862.0,296.2 L865.5,303.0 L870.0,295.5 L873.8,303.0 L878.0,285.0 L881.2,288.8 L885.0,287.0 L889.5,282.0 L893.8,292.0 L897.5,295.5 L900.5,298.8 L904.5,307.5 L906.2,310.5 L910.0,307.5 L913.8,312.0 L917.5,318.8 L922.0,310.0 L925.0,315.0 L930.0,325.0 L934.5,333.0 L938.8,333.5 L942.5,330.0 L946.2,321.2 L953.0,317.5 L957.5,320.0 L963.8,323.8 L970.0,326.2 L973.8,337.0 L978.0,322.5 L981.5,313.0 L985.0,317.5 L989.5,326.2 L993.0,325.5 L997.0,327.5 L1001.2,323.0 L1005.5,321.2 L1009.5,325.5 L1013.8,318.8 L1017.5,322.0 L1022.0,319.5 L1026.2,326.2 L1030.0,331.2 L1033.8,338.8 L1037.5,343.8 L1041.2,349.0 L1046.2,332.5 L1050.0,332.0 L1057.5,333.8 L1061.2,335.5 L1065.5,336.2 L1069.5,348.0 L1073.8,340.0 L1077.5,338.0 L1082.5,339.5 L1088.8,340.5 L1093.0,344.5 L1096.2,333.8 L1100.0,319.5 L1105.0,313.8 L1108.8,303.8 L1112.5,300.5 L1117.0,301.2 L1121.2,307.5 L1125.0,311.2 L1132.5,313.0 L1137.0,316.2 L1141.2,317.5 L1145.0,305.0 L1148.8,306.2 L1152.5,313.8 L1160.0,317.5 L1163.8,323.8 L1168.8,329.5 L1172.5,335.5 L1177.0,331.2 L1181.2,333.0 L1189.5,333.8 L1193.0,340.0 L1197.5,335.5 L1200.0,333.8 L1205.0,334.5 L1208.8,343.0 L1212.0,345.5 L1217.0,358.0 L1221.2,358.8 L1224.5,355.0 L1228.8,357.5 L1232.5,359.5 L1237.0,378.0 L1241.2,365.0 L1245.0,364.5 L1248.8,368.8 L1252.5,369.5 L1257.0,372.0 L1260.5,373.0 L1264.5,371.2 L1268.0,368.0 L1272.5,350.5 L1276.2,360.0 L1280.5,361.0 L1285.0,361.2 L1289.5,364.5 L1293.0,364.5 L1297.5,361.5 L1302.0,363.0 L1306.2,366.0 L1311.2,368.0 L1316.2,360.5 L1320.0,362.5 L1325.0,366.2 L1330.0,368.0 L1333.0,369.5 L1337.0,367.5 L1340.0,370.5 L1343.8,370.0 L1348.8,373.8 L1353.8,377.0 L1360.0,379.0 L1365.0,376.2 L1368.8,375.0 L1372.5,370.5 L1376.2,367.5 L1380.0,370.5 L1386.2,369.5 L1389.5,367.0 L1392.5,362.5 L1396.2,364.0 L1400.0,368.5 L1403.8,366.5 L1407.5,371.2 L1411.2,369.0 L1414.5,369.5 L1417.0,371.2 L1420.5,362.5 L1424.2,371.2 L1428.0,358.0 L1431.2,367.5 L1433.8,373.8 L1437.0,376.2 L1440.5,373.0 L1447.5,372.5 L1451.2,373.5 L1455.0,368.8 L1458.8,370.5 L1463.8,374.5 L1468.0,368.0 L1472.5,366.2 L1476.2,373.8 L1480.0,362.5 L1483.8,365.0 L1487.5,364.5 L1492.5,368.0 L1498.2,364.0 L1498.2,307.5 L39.4,307.5 Z" fill="url(#rg)" clip-path="url(#dn)"/>
<path d="M39.4,309.4 L43.8,298.0 L48.5,305.4 L51.8,308.7 L55.5,314.0 L61.8,312.0 L66.8,310.0 L70.8,308.0 L76.2,309.0 L79.5,306.0 L83.5,282.6 L87.6,275.9 L93.6,267.9 L98.6,261.9 L103.6,266.3 L106.9,264.2 L111.9,271.6 L115.3,271.9 L119.6,266.3 L123.0,265.3 L127.0,275.3 L130.3,281.0 L133.7,282.3 L143.7,280.6 L147.0,248.5 L151.0,228.5 L155.4,189.1 L159.7,206.4 L163.7,204.4 L167.8,190.4 L172.1,203.4 L176.4,221.1 L179.8,223.8 L183.5,231.2 L187.5,207.4 L191.1,217.8 L195.5,215.8 L199.8,205.8 L203.8,187.7 L207.5,213.8 L218.9,213.8 L223.9,211.1 L228.2,216.8 L231.2,224.5 L235.3,252.9 L240.6,251.2 L246.6,244.5 L251.3,247.2 L255.0,254.6 L260.0,272.9 L264.0,262.6 L267.3,257.2 L271.3,256.6 L275.7,241.2 L279.4,235.2 L283.4,244.5 L288.1,258.6 L292.4,261.9 L295.7,264.6 L300.1,265.3 L304.1,268.6 L307.4,274.3 L311.4,272.6 L314.8,275.3 L319.1,286.0 L323.5,297.0 L327.5,300.3 L331.5,280.0 L335.8,277.9 L339.2,282.0 L343.2,288.0 L347.5,285.3 L354.9,271.3 L359.2,278.6 L363.2,287.0 L366.9,271.9 L370.9,266.9 L374.9,278.6 L378.6,277.9 L383.3,268.6 L387.6,272.6 L391.6,267.3 L396.0,249.2 L400.0,230.9 L403.3,227.6 L406.7,230.9 L410.0,226.9 L414.0,229.6 L417.4,226.2 L420.1,215.2 L422.7,204.2 L426.7,202.2 L430.7,192.8 L434.8,185.1 L438.8,160.7 L442.8,155.4 L446.8,154.0 L450.8,184.1 L455.1,197.5 L458.8,190.1 L462.8,190.1 L466.2,183.4 L470.2,200.8 L474.2,206.8 L478.5,213.5 L482.9,227.6 L486.9,237.6 L490.2,244.3 L494.2,234.2 L498.6,221.9 L502.9,234.9 L506.9,225.2 L511.9,208.5 L518.0,190.8 L522.3,195.1 L526.3,210.8 L530.3,196.8 L534.7,186.8 L538.7,214.2 L543.0,212.8 L549.4,207.5 L553.7,218.9 L558.7,232.9 L562.4,220.2 L565.7,227.6 L570.4,198.8 L574.4,203.5 L577.8,210.2 L582.5,236.9 L586.5,226.9 L590.5,226.2 L594.5,219.5 L598.5,230.9 L602.2,228.9 L606.5,231.9 L610.5,238.6 L614.5,230.9 L618.5,225.5 L622.6,234.2 L626.6,227.6 L630.6,228.9 L634.6,216.2 L638.6,203.5 L642.6,202.8 L646.6,198.5 L650.6,190.1 L654.6,171.7 L658.0,160.1 L662.3,173.4 L666.3,184.1 L670.0,181.8 L674.0,167.4 L678.0,171.7 L682.0,187.5 L686.0,186.1 L690.1,195.1 L694.1,213.5 L698.1,218.2 L702.1,215.2 L706.1,235.2 L710.1,224.2 L714.1,224.9 L718.1,218.9 L722.1,222.5 L726.1,222.2 L730.2,206.8 L734.2,196.1 L738.2,194.1 L742.2,201.8 L746.2,202.2 L750.2,189.5 L754.2,206.2 L758.2,198.1 L762.2,208.5 L766.2,272.0 L770.3,275.0 L774.3,251.9 L778.3,242.9 L782.3,253.6 L786.3,265.3 L790.3,273.7 L794.3,278.3 L800.0,272.0 L806.2,263.8 L813.8,275.5 L818.8,268.8 L822.0,265.5 L825.0,264.5 L830.0,256.2 L833.8,262.0 L838.0,267.5 L842.0,267.0 L846.2,278.8 L850.0,275.5 L853.8,273.8 L857.5,275.0 L862.0,296.2 L865.5,303.0 L870.0,295.5 L873.8,303.0 L878.0,285.0 L881.2,288.8 L885.0,287.0 L889.5,282.0 L893.8,292.0 L897.5,295.5 L900.5,298.8 L904.5,307.5 L906.2,310.5 L910.0,307.5 L913.8,312.0 L917.5,318.8 L922.0,310.0 L925.0,315.0 L930.0,325.0 L934.5,333.0 L938.8,333.5 L942.5,330.0 L946.2,321.2 L953.0,317.5 L957.5,320.0 L963.8,323.8 L970.0,326.2 L973.8,337.0 L978.0,322.5 L981.5,313.0 L985.0,317.5 L989.5,326.2 L993.0,325.5 L997.0,327.5 L1001.2,323.0 L1005.5,321.2 L1009.5,325.5 L1013.8,318.8 L1017.5,322.0 L1022.0,319.5 L1026.2,326.2 L1030.0,331.2 L1033.8,338.8 L1037.5,343.8 L1041.2,349.0 L1046.2,332.5 L1050.0,332.0 L1057.5,333.8 L1061.2,335.5 L1065.5,336.2 L1069.5,348.0 L1073.8,340.0 L1077.5,338.0 L1082.5,339.5 L1088.8,340.5 L1093.0,344.5 L1096.2,333.8 L1100.0,319.5 L1105.0,313.8 L1108.8,303.8 L1112.5,300.5 L1117.0,301.2 L1121.2,307.5 L1125.0,311.2 L1132.5,313.0 L1137.0,316.2 L1141.2,317.5 L1145.0,305.0 L1148.8,306.2 L1152.5,313.8 L1160.0,317.5 L1163.8,323.8 L1168.8,329.5 L1172.5,335.5 L1177.0,331.2 L1181.2,333.0 L1189.5,333.8 L1193.0,340.0 L1197.5,335.5 L1200.0,333.8 L1205.0,334.5 L1208.8,343.0 L1212.0,345.5 L1217.0,358.0 L1221.2,358.8 L1224.5,355.0 L1228.8,357.5 L1232.5,359.5 L1237.0,378.0 L1241.2,365.0 L1245.0,364.5 L1248.8,368.8 L1252.5,369.5 L1257.0,372.0 L1260.5,373.0 L1264.5,371.2 L1268.0,368.0 L1272.5,350.5 L1276.2,360.0 L1280.5,361.0 L1285.0,361.2 L1289.5,364.5 L1293.0,364.5 L1297.5,361.5 L1302.0,363.0 L1306.2,366.0 L1311.2,368.0 L1316.2,360.5 L1320.0,362.5 L1325.0,366.2 L1330.0,368.0 L1333.0,369.5 L1337.0,367.5 L1340.0,370.5 L1343.8,370.0 L1348.8,373.8 L1353.8,377.0 L1360.0,379.0 L1365.0,376.2 L1368.8,375.0 L1372.5,370.5 L1376.2,367.5 L1380.0,370.5 L1386.2,369.5 L1389.5,367.0 L1392.5,362.5 L1396.2,364.0 L1400.0,368.5 L1403.8,366.5 L1407.5,371.2 L1411.2,369.0 L1414.5,369.5 L1417.0,371.2 L1420.5,362.5 L1424.2,371.2 L1428.0,358.0 L1431.2,367.5 L1433.8,373.8 L1437.0,376.2 L1440.5,373.0 L1447.5,372.5 L1451.2,373.5 L1455.0,368.8 L1458.8,370.5 L1463.8,374.5 L1468.0,368.0 L1472.5,366.2 L1476.2,373.8 L1480.0,362.5 L1483.8,365.0 L1487.5,364.5 L1492.5,368.0 L1498.2,364.0" fill="none" stroke="#1abb80" stroke-width="2.5" stroke-linejoin="round" stroke-linecap="round" clip-path="url(#lup)"/>
<path d="M39.4,309.4 L43.8,298.0 L48.5,305.4 L51.8,308.7 L55.5,314.0 L61.8,312.0 L66.8,310.0 L70.8,308.0 L76.2,309.0 L79.5,306.0 L83.5,282.6 L87.6,275.9 L93.6,267.9 L98.6,261.9 L103.6,266.3 L106.9,264.2 L111.9,271.6 L115.3,271.9 L119.6,266.3 L123.0,265.3 L127.0,275.3 L130.3,281.0 L133.7,282.3 L143.7,280.6 L147.0,248.5 L151.0,228.5 L155.4,189.1 L159.7,206.4 L163.7,204.4 L167.8,190.4 L172.1,203.4 L176.4,221.1 L179.8,223.8 L183.5,231.2 L187.5,207.4 L191.1,217.8 L195.5,215.8 L199.8,205.8 L203.8,187.7 L207.5,213.8 L218.9,213.8 L223.9,211.1 L228.2,216.8 L231.2,224.5 L235.3,252.9 L240.6,251.2 L246.6,244.5 L251.3,247.2 L255.0,254.6 L260.0,272.9 L264.0,262.6 L267.3,257.2 L271.3,256.6 L275.7,241.2 L279.4,235.2 L283.4,244.5 L288.1,258.6 L292.4,261.9 L295.7,264.6 L300.1,265.3 L304.1,268.6 L307.4,274.3 L311.4,272.6 L314.8,275.3 L319.1,286.0 L323.5,297.0 L327.5,300.3 L331.5,280.0 L335.8,277.9 L339.2,282.0 L343.2,288.0 L347.5,285.3 L354.9,271.3 L359.2,278.6 L363.2,287.0 L366.9,271.9 L370.9,266.9 L374.9,278.6 L378.6,277.9 L383.3,268.6 L387.6,272.6 L391.6,267.3 L396.0,249.2 L400.0,230.9 L403.3,227.6 L406.7,230.9 L410.0,226.9 L414.0,229.6 L417.4,226.2 L420.1,215.2 L422.7,204.2 L426.7,202.2 L430.7,192.8 L434.8,185.1 L438.8,160.7 L442.8,155.4 L446.8,154.0 L450.8,184.1 L455.1,197.5 L458.8,190.1 L462.8,190.1 L466.2,183.4 L470.2,200.8 L474.2,206.8 L478.5,213.5 L482.9,227.6 L486.9,237.6 L490.2,244.3 L494.2,234.2 L498.6,221.9 L502.9,234.9 L506.9,225.2 L511.9,208.5 L518.0,190.8 L522.3,195.1 L526.3,210.8 L530.3,196.8 L534.7,186.8 L538.7,214.2 L543.0,212.8 L549.4,207.5 L553.7,218.9 L558.7,232.9 L562.4,220.2 L565.7,227.6 L570.4,198.8 L574.4,203.5 L577.8,210.2 L582.5,236.9 L586.5,226.9 L590.5,226.2 L594.5,219.5 L598.5,230.9 L602.2,228.9 L606.5,231.9 L610.5,238.6 L614.5,230.9 L618.5,225.5 L622.6,234.2 L626.6,227.6 L630.6,228.9 L634.6,216.2 L638.6,203.5 L642.6,202.8 L646.6,198.5 L650.6,190.1 L654.6,171.7 L658.0,160.1 L662.3,173.4 L666.3,184.1 L670.0,181.8 L674.0,167.4 L678.0,171.7 L682.0,187.5 L686.0,186.1 L690.1,195.1 L694.1,213.5 L698.1,218.2 L702.1,215.2 L706.1,235.2 L710.1,224.2 L714.1,224.9 L718.1,218.9 L722.1,222.5 L726.1,222.2 L730.2,206.8 L734.2,196.1 L738.2,194.1 L742.2,201.8 L746.2,202.2 L750.2,189.5 L754.2,206.2 L758.2,198.1 L762.2,208.5 L766.2,272.0 L770.3,275.0 L774.3,251.9 L778.3,242.9 L782.3,253.6 L786.3,265.3 L790.3,273.7 L794.3,278.3 L800.0,272.0 L806.2,263.8 L813.8,275.5 L818.8,268.8 L822.0,265.5 L825.0,264.5 L830.0,256.2 L833.8,262.0 L838.0,267.5 L842.0,267.0 L846.2,278.8 L850.0,275.5 L853.8,273.8 L857.5,275.0 L862.0,296.2 L865.5,303.0 L870.0,295.5 L873.8,303.0 L878.0,285.0 L881.2,288.8 L885.0,287.0 L889.5,282.0 L893.8,292.0 L897.5,295.5 L900.5,298.8 L904.5,307.5 L906.2,310.5 L910.0,307.5 L913.8,312.0 L917.5,318.8 L922.0,310.0 L925.0,315.0 L930.0,325.0 L934.5,333.0 L938.8,333.5 L942.5,330.0 L946.2,321.2 L953.0,317.5 L957.5,320.0 L963.8,323.8 L970.0,326.2 L973.8,337.0 L978.0,322.5 L981.5,313.0 L985.0,317.5 L989.5,326.2 L993.0,325.5 L997.0,327.5 L1001.2,323.0 L1005.5,321.2 L1009.5,325.5 L1013.8,318.8 L1017.5,322.0 L1022.0,319.5 L1026.2,326.2 L1030.0,331.2 L1033.8,338.8 L1037.5,343.8 L1041.2,349.0 L1046.2,332.5 L1050.0,332.0 L1057.5,333.8 L1061.2,335.5 L1065.5,336.2 L1069.5,348.0 L1073.8,340.0 L1077.5,338.0 L1082.5,339.5 L1088.8,340.5 L1093.0,344.5 L1096.2,333.8 L1100.0,319.5 L1105.0,313.8 L1108.8,303.8 L1112.5,300.5 L1117.0,301.2 L1121.2,307.5 L1125.0,311.2 L1132.5,313.0 L1137.0,316.2 L1141.2,317.5 L1145.0,305.0 L1148.8,306.2 L1152.5,313.8 L1160.0,317.5 L1163.8,323.8 L1168.8,329.5 L1172.5,335.5 L1177.0,331.2 L1181.2,333.0 L1189.5,333.8 L1193.0,340.0 L1197.5,335.5 L1200.0,333.8 L1205.0,334.5 L1208.8,343.0 L1212.0,345.5 L1217.0,358.0 L1221.2,358.8 L1224.5,355.0 L1228.8,357.5 L1232.5,359.5 L1237.0,378.0 L1241.2,365.0 L1245.0,364.5 L1248.8,368.8 L1252.5,369.5 L1257.0,372.0 L1260.5,373.0 L1264.5,371.2 L1268.0,368.0 L1272.5,350.5 L1276.2,360.0 L1280.5,361.0 L1285.0,361.2 L1289.5,364.5 L1293.0,364.5 L1297.5,361.5 L1302.0,363.0 L1306.2,366.0 L1311.2,368.0 L1316.2,360.5 L1320.0,362.5 L1325.0,366.2 L1330.0,368.0 L1333.0,369.5 L1337.0,367.5 L1340.0,370.5 L1343.8,370.0 L1348.8,373.8 L1353.8,377.0 L1360.0,379.0 L1365.0,376.2 L1368.8,375.0 L1372.5,370.5 L1376.2,367.5 L1380.0,370.5 L1386.2,369.5 L1389.5,367.0 L1392.5,362.5 L1396.2,364.0 L1400.0,368.5 L1403.8,366.5 L1407.5,371.2 L1411.2,369.0 L1414.5,369.5 L1417.0,371.2 L1420.5,362.5 L1424.2,371.2 L1428.0,358.0 L1431.2,367.5 L1433.8,373.8 L1437.0,376.2 L1440.5,373.0 L1447.5,372.5 L1451.2,373.5 L1455.0,368.8 L1458.8,370.5 L1463.8,374.5 L1468.0,368.0 L1472.5,366.2 L1476.2,373.8 L1480.0,362.5 L1483.8,365.0 L1487.5,364.5 L1492.5,368.0 L1498.2,364.0" fill="none" stroke="#e03647" stroke-width="2.5" stroke-linejoin="round" stroke-linecap="round" clip-path="url(#ldn)"/>
<!-- header -->
<circle cx="18.5" cy="26.5" r="5.5" fill="#16c784"/>
<text x="30.20" y="31.60" font-size="16" fill="#616e85" font-weight="normal" textLength="91.40" lengthAdjust="spacingAndGlyphs" stroke="#616e85" stroke-width="0.35">Market Cap</text>
<text x="12.60" y="68.00" font-size="22" fill="#0d1421" font-weight="bold" textLength="89.40" lengthAdjust="spacingAndGlyphs">$31.25B</text>
<path d="M112.1,57.2 L126,57.2 L119.05,64.4 Z" fill="#ea3943"/>
<text x="131.70" y="68.00" font-size="19.4" fill="#ea3943" font-weight="normal" textLength="70.00" lengthAdjust="spacingAndGlyphs" stroke="#ea3943" stroke-width="0.35">32.85%</text>
<rect x="239.6" y="21.6" width="10.6" height="10" rx="3" fill="#eff2f5"/>
<text x="255.20" y="31.60" font-size="16" fill="#616e85" font-weight="normal" textLength="58.60" lengthAdjust="spacingAndGlyphs" stroke="#616e85" stroke-width="0.35">Volume</text>
<text x="238.00" y="68.00" font-size="22" fill="#0d1421" font-weight="bold" textLength="79.00" lengthAdjust="spacingAndGlyphs">$3.53B</text>
<path d="M328.1,57.2 L342,57.2 L335.05,64.4 Z" fill="#ea3943"/>
<text x="347.00" y="68.00" font-size="19.4" fill="#ea3943" font-weight="normal" textLength="70.10" lengthAdjust="spacingAndGlyphs" stroke="#ea3943" stroke-width="0.35">23.50%</text>
<!-- watermark -->
<g>
<circle cx="1410.1" cy="441.3" r="9.8" fill="none" stroke="#dcdfe4" stroke-width="1.8"/>
<path d="M1404.4,446 L1404.4,439.4 Q1404.4,436.4 1406.2,438.8 L1409.2,443.6 Q1410.1,444.8 1411,443.6 L1414,438.8 Q1415.8,436.4 1415.8,439.4 L1415.8,443.4 Q1416,446 1418.6,444.6" fill="none" stroke="#dcdfe4" stroke-width="1.6" stroke-linecap="round" stroke-linejoin="round"/>
<text x="1423.80" y="447.40" font-size="15" fill="#e8eaee" font-weight="bold" textLength="96.00" lengthAdjust="spacingAndGlyphs">CoinMarketCap</text>
</g>
<!-- axes -->
<text x="1534.40" y="102.00" font-size="17.8" fill="#7c8192" font-weight="normal" textLength="53.40" lengthAdjust="spacingAndGlyphs" stroke="#7c8192" stroke-width="0.3">$100B</text><text x="1534.20" y="258.90" font-size="17.8" fill="#7c8192" font-weight="normal" textLength="44.80" lengthAdjust="spacingAndGlyphs" stroke="#7c8192" stroke-width="0.3">$60B</text><text x="1534.35" y="414.70" font-size="17.8" fill="#7c8192" font-weight="normal" textLength="44.45" lengthAdjust="spacingAndGlyphs" stroke="#7c8192" stroke-width="0.3">$20B</text>
<text x="82.30" y="447.70" font-size="17.8" fill="#7c8192" font-weight="normal" textLength="66.75" lengthAdjust="spacingAndGlyphs" stroke="#7c8192" stroke-width="0.3">May '25</text><text x="208.80" y="447.70" font-size="17.8" fill="#7c8192" font-weight="normal" textLength="61.00" lengthAdjust="spacingAndGlyphs" stroke="#7c8192" stroke-width="0.3">Jun '25</text><text x="331.80" y="447.70" font-size="17.8" fill="#7c8192" font-weight="normal" textLength="54.75" lengthAdjust="spacingAndGlyphs" stroke="#7c8192" stroke-width="0.3">Jul '25</text><text x="450.55" y="447.70" font-size="17.8" fill="#7c8192" font-weight="normal" textLength="64.25" lengthAdjust="spacingAndGlyphs" stroke="#7c8192" stroke-width="0.3">Aug '25</text><text x="574.30" y="447.70" font-size="17.8" fill="#7c8192" font-weight="normal" textLength="64.00" lengthAdjust="spacingAndGlyphs" stroke="#7c8192" stroke-width="0.3">Sep '25</text><text x="695.55" y="447.70" font-size="17.8" fill="#7c8192" font-weight="normal" textLength="61.00" lengthAdjust="spacingAndGlyphs" stroke="#7c8192" stroke-width="0.3">Oct '25</text><text x="817.30" y="447.70" font-size="17.8" fill="#7c8192" font-weight="normal" textLength="64.25" lengthAdjust="spacingAndGlyphs" stroke="#7c8192" stroke-width="0.3">Nov '25</text><text x="937.55" y="447.70" font-size="17.8" fill="#7c8192" font-weight="normal" textLength="63.50" lengthAdjust="spacingAndGlyphs" stroke="#7c8192" stroke-width="0.3">Dec '25</text><text x="1063.05" y="447.70" font-size="17.8" fill="#7c8192" font-weight="normal" textLength="61.00" lengthAdjust="spacingAndGlyphs" stroke="#7c8192" stroke-width="0.3">Jan '26</text><text x="1185.55" y="447.70" font-size="17.8" fill="#7c8192" font-weight="normal" textLength="62.25" lengthAdjust="spacingAndGlyphs" stroke="#7c8192" stroke-width="0.3">Feb '26</text><text x="1296.80" y="447.70" font-size="17.8" fill="#7c8192" font-weight="normal" textLength="63.50" lengthAdjust="spacingAndGlyphs" stroke="#7c8192" stroke-width="0.3">Mar '26</text><text x="1421.80" y="447.70" font-size="17.8" fill="#7c8192" font-weight="normal" textLength="60.50" lengthAdjust="spacingAndGlyphs" stroke="#7c8192" stroke-width="0.3">Apr '26</text>
</svg>
</body></html>
